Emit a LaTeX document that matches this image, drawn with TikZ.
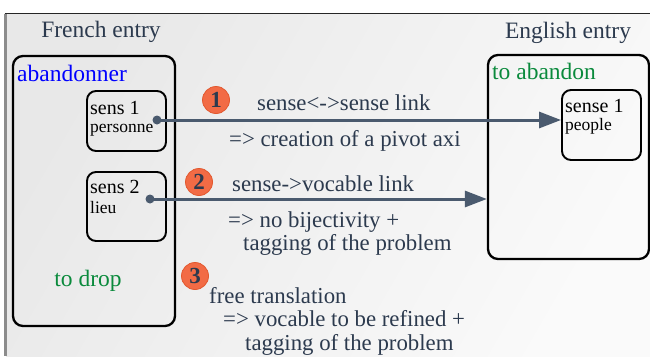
\documentclass[tikz,border=0pt]{standalone}
\usepackage{fontspec}
\setmainfont{Liberation Serif}
\usetikzlibrary{arrows.meta,calc}
\definecolor{txt}{HTML}{2C3A4E}
\definecolor{arr}{HTML}{4A5A6E}
\definecolor{frblue}{HTML}{0000FF}
\definecolor{engreen}{HTML}{0A8A3C}
\definecolor{badge}{HTML}{F26B45}
\definecolor{badgeedge}{HTML}{E2582E}
\tikzset{
  entrybox/.style={draw=black, line width=2.3pt, rounded corners=10pt, inner sep=0pt},
  sensebox/.style={draw=black, line width=1.9pt, rounded corners=9pt, inner sep=0pt},
  big/.style={font=\fontsize{23.5}{26}\selectfont, inner sep=0pt, text=txt},
  mid/.style={font=\fontsize{22.8}{26}\selectfont, inner sep=0pt, text=txt},
  sname/.style={font=\fontsize{20}{22}\selectfont, inner sep=0pt, anchor=base west},
  ssub/.style={font=\fontsize{17.5}{19}\selectfont, inner sep=0pt, anchor=base west},
  dot/.style={circle, fill=arr, inner sep=0pt, minimum size=9pt},
  link/.style={draw=arr, line width=3pt, -{Triangle[length=22pt,width=16pt]}},
  numbadge/.style={circle, fill=badge, draw=badgeedge, line width=0.8pt, minimum size=27pt, inner sep=0pt, text=txt, font=\fontsize{23}{26}\selectfont\bfseries}
}
\begin{document}
\begin{tikzpicture}[x=1pt,y=-1pt]
\useasboundingbox (0,0) rectangle (650,356);
% frame background
\shade[left color=black!9, right color=black!2, shading angle=60] (6,13) rectangle (650,356);
\draw[black!45, line width=2.5pt] (5.5,14) -- (5.5,356);
\draw[black!85, line width=1pt] (4.5,13.5) -- (650,13.5);
% headers
\node[big, anchor=base] (frh) at (101,37) {French entry};
\node[big, anchor=base] (enh) at (568,38) {English entry};
% French entry
\node[entrybox, minimum width=162pt, minimum height=270pt] (fbox) at (94,191) {};
\node[big, text=frblue, anchor=base west] (aband) at (17,81) {abandonner};
\node[sensebox, minimum width=79pt, minimum height=60pt] (fs1) at (126.5,121) {};
\node[sname] (fs1a) at (90,114) {sens 1};
\node[ssub] (fs1b) at (90,132) {personne};
\node[sensebox, minimum width=79pt, minimum height=69pt] (fs2) at (126.5,206.5) {};
\node[sname] (fs2a) at (90,193) {sens 2};
\node[ssub] (fs2b) at (90,213) {lieu};
\node[big, text=engreen, anchor=base] (drop) at (88,286) {to drop};
% English entry
\node[entrybox, minimum width=161pt, minimum height=204pt] (ebox) at (568.5,157) {};
\node[big, text=engreen, anchor=base west] (toab) at (492,79) {to abandon};
\node[sensebox, minimum width=79pt, minimum height=70pt] (es1) at (601.5,125) {};
\node[sname] (es1a) at (565,112) {sense 1};
\node[ssub] (es1b) at (565,130) {people};
% links
\node[dot] (d1) at (157,120) {};
\node[dot] (d2) at (150,199) {};
\draw[link] (d1.center) -- (d1 -| es1.west);
\draw[link] (d2.center) -- (d2 -| ebox.west);
% badges
\node[numbadge] (b1) at (216,100) {1};
\node[numbadge] (b2) at (199,182) {2};
\node[numbadge] (b3) at (195,276) {3};
% labels
\node[mid, anchor=base west] (l1) at (257,110) {sense<->sense link};
\node[mid, anchor=base west] (l1b) at (229,146) {=> creation of a pivot axi};
\node[mid, anchor=base west] (l2) at (232,191) {sense->vocable link};
\node[mid, anchor=base west] (l2b) at (228,227) {=> no bijectivity +};
\node[mid, anchor=base west] (l2c) at (243,250) {tagging of the problem};
\node[mid, anchor=base west] (l3) at (209,303.5) {free translation};
\node[mid, anchor=base west] (l3b) at (223,326) {=> vocable to be refined +};
\node[mid, anchor=base west] (l3c) at (245,350) {tagging of the problem};
\end{tikzpicture}
\end{document}
